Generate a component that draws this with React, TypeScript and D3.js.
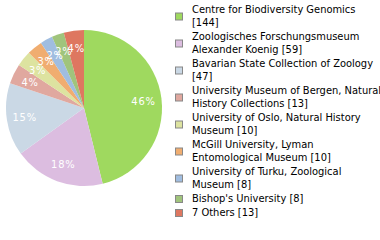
import React from "react";
import * as d3 from "d3";

const labels = [
  ["Centre for Biodiversity Genomics", "[144]"],
  ["Zoologisches Forschungsmuseum", "Alexander Koenig [59]"],
  ["Bavarian State Collection of Zoology", "[47]"],
  ["University Museum of Bergen, Natural", "History Collections [13]"],
  ["University of Oslo, Natural History", "Museum [10]"],
  ["McGill University, Lyman", "Entomological Museum [10]"],
  ["University of Turku, Zoological", "Museum [8]"],
  ["Bishop's University [8]"],
  ["7 Others [13]"],
];
const counts = [144, 59, 47, 13, 10, 10, 8, 8, 13];
const colors = [
  "#9fd95f",
  "#dcbde0",
  "#cad8e5",
  "#e0a89f",
  "#dde3a0",
  "#f0ad70",
  "#a0bde0",
  "#a0c47c",
  "#de7760",
];

const font = "DejaVu Sans Condensed";

const App: React.FC = () => {
  const cx = 84;
  const cy = 108;
  const r = 78;
  const total = d3.sum(counts);

  const pie = d3.pie<number>().sort(null).value((d) => d);
  const arcs = pie(counts);
  const arc = d3.arc<d3.PieArcDatum<number>>().innerRadius(0).outerRadius(r);
  const labelArc = d3
    .arc<d3.PieArcDatum<number>>()
    .innerRadius(60)
    .outerRadius(60);

  // legend layout
  const lineH = 13;
  const gap = 1;
  let y = 9.5;
  const legendRows = labels.map((lines) => {
    const top = y;
    y += lines.length * lineH + gap;
    return { lines, top };
  });

  return (
    <svg
      width={380}
      height={240}
      style={{ position: "absolute", left: 0, top: 0, fontFamily: font }}
    >
      <rect width={380} height={240} fill="#fff" />
      <g transform={`translate(${cx},${cy})`}>
        {arcs.map((a, i) => (
          <path key={i} d={arc(a) || ""} fill={colors[i]} />
        ))}
        {arcs.map((a, i) => {
          const [x, yy] = labelArc.centroid(a);
          return (
            <text
              key={i}
              x={x}
              y={yy}
              dy="0.35em"
              textAnchor="middle"
              fill="#fff"
              fontSize={11}
              letterSpacing={0.8}
            >
              {Math.floor((counts[i] / total) * 100)}%
            </text>
          );
        })}
      </g>
      <g>
        {legendRows.map((row, i) => {
          const mid = row.top + ((row.lines.length - 1) * lineH) / 2;
          return (
            <g key={i}>
              <rect
                x={175.5}
                y={mid - 3}
                width={7}
                height={7}
                fill={colors[i]}
                stroke="#888"
                strokeWidth={1}
              />
              {row.lines.map((t, j) => (
                <text
                  key={j}
                  x={192}
                  y={row.top + j * lineH}
                  dy="0.35em"
                  fontSize={11}
                  fill="#000"
                >
                  {t}
                </text>
              ))}
            </g>
          );
        })}
      </g>
    </svg>
  );
};

export default App;
